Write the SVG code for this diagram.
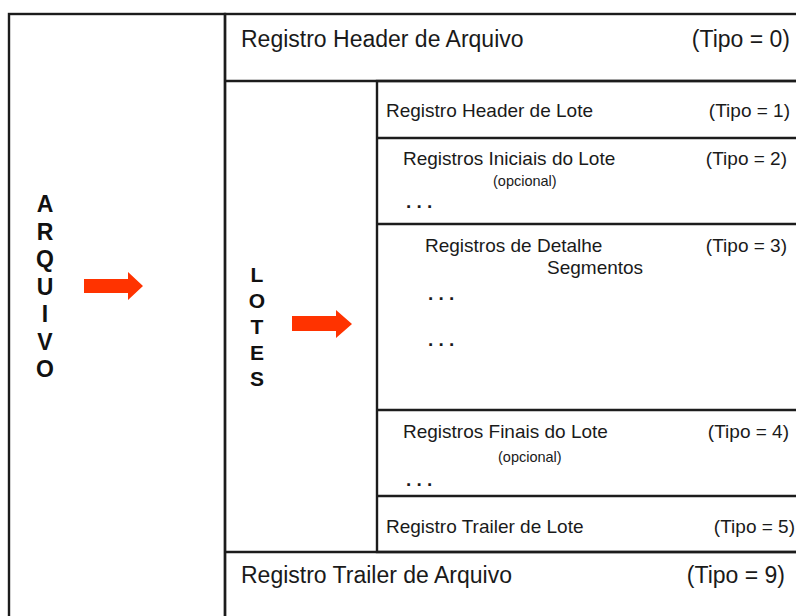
<svg xmlns="http://www.w3.org/2000/svg" width="796" height="616" viewBox="0 0 796 616">
<style>
.ln{stroke:#1c1c1c;stroke-width:2.4;fill:none}
.t{font-family:"Liberation Sans",Arial,sans-serif;fill:#1a1a1a}
.big{font-size:23px}
.md{font-size:19px}
.sm{font-size:14.5px}
.dots{font-weight:bold}
.v{font-family:"Liberation Sans",Arial,sans-serif;font-weight:bold;fill:#111;text-anchor:middle}
.e{text-anchor:end}
.arr{fill:#ff3300}
</style>
<rect width="796" height="616" fill="#ffffff"/>
<g id="arquivo">
<rect x="9" y="14" width="216" height="620" fill="#dcdcdc" class="ln"/>
<g class="v" font-size="23">
<text x="45" y="212">A</text>
<text x="45" y="239.5">R</text>
<text x="45" y="267">Q</text>
<text x="45" y="294.5">U</text>
<text x="45" y="322">I</text>
<text x="45" y="349.5">V</text>
<text x="45" y="377">O</text>
</g>
</g>
<g id="conteudo">
<rect x="225" y="14" width="600" height="620" fill="#e8e8e8" class="ln"/>
</g>
<g id="header-arquivo">
<line x1="225" y1="81" x2="800" y2="81" class="ln"/>
<text x="241" y="47" class="t big">Registro Header de Arquivo</text>
<text x="790" y="47" class="t big e">(Tipo = 0)</text>
</g>
<g id="lotes">
<g class="v" font-size="21">
<text x="257" y="282">L</text>
<text x="257" y="308">O</text>
<text x="257" y="334">T</text>
<text x="257" y="360">E</text>
<text x="257" y="386">S</text>
</g>
</g>
<g id="lote-registros">
<rect x="377" y="81" width="430" height="471" fill="#f8f8f8" class="ln"/>
</g>
<g id="header-lote">
<text x="386" y="116.5" class="t md">Registro Header de Lote</text>
<text x="790" y="116.5" class="t md e">(Tipo = 1)</text>
</g>
<g id="iniciais-lote">
<line x1="377" y1="138" x2="800" y2="138" class="ln"/>
<text x="403" y="165" class="t md">Registros Iniciais do Lote</text>
<text x="787" y="165" class="t md e">(Tipo = 2)</text>
<text x="493" y="186" class="t sm">(opcional)</text>
<text x="406" y="208" class="t md dots">. . .</text>
</g>
<g id="detalhe">
<line x1="377" y1="224" x2="800" y2="224" class="ln"/>
<text x="425" y="252" class="t md">Registros de Detalhe</text>
<text x="787" y="252" class="t md e">(Tipo = 3)</text>
<text x="547" y="274" class="t md">Segmentos</text>
<text x="428" y="300" class="t md dots">. . .</text>
<text x="428" y="346" class="t md dots">. . .</text>
</g>
<g id="finais-lote">
<line x1="377" y1="410" x2="800" y2="410" class="ln"/>
<text x="403" y="438" class="t md">Registros Finais do Lote</text>
<text x="789" y="438" class="t md e">(Tipo = 4)</text>
<text x="498" y="462" class="t sm">(opcional)</text>
<text x="406" y="486" class="t md dots">. . .</text>
</g>
<g id="trailer-lote">
<line x1="377" y1="496" x2="800" y2="496" class="ln"/>
<text x="386" y="533" class="t md">Registro Trailer de Lote</text>
<text x="795" y="533" class="t md e">(Tipo = 5)</text>
</g>
<g id="trailer-arquivo">
<line x1="225" y1="552" x2="800" y2="552" class="ln"/>
<text x="241" y="583" class="t big">Registro Trailer de Arquivo</text>
<text x="785" y="583" class="t big e">(Tipo = 9)</text>
</g>
<g id="connectors">
<path class="arr" d="M84,279 H128 V272 L143,286 L128,300 V293 H84 Z"/>
<path class="arr" d="M292,316 H336 V310 L352,324 L336,338 V331 H292 Z"/>
</g>
</svg>
